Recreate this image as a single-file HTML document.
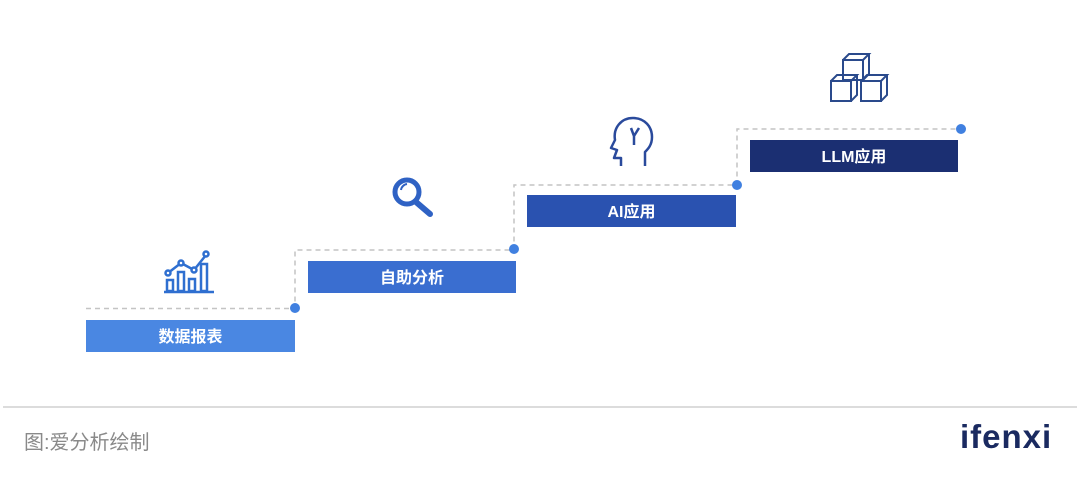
<!DOCTYPE html>
<html><head><meta charset="utf-8"><style>
body{margin:0;width:1080px;height:478px;background:#fff;position:relative;overflow:hidden;font-family:"Liberation Sans","Noto Sans CJK SC",sans-serif}
.b{position:absolute;height:32px;color:#fff;font-weight:bold;font-size:16px;line-height:35px;text-align:center}
</style></head><body>
<svg width="1080" height="478" style="position:absolute;left:0;top:0">
<g stroke="#c4c4c4" stroke-width="1.5" stroke-dasharray="5,4" fill="none">
<path d="M86 308.5H295V250H514V185H737V129H961"/>
</g>
<g fill="#4080e0">
<circle cx="295" cy="308" r="5"/><circle cx="514" cy="249" r="5"/><circle cx="737" cy="185" r="5"/><circle cx="961" cy="129" r="5"/>
</g>
<line x1="3" y1="407" x2="1077" y2="407" stroke="#dcdcdc" stroke-width="2"/>
<g stroke="#2f6fd0" stroke-width="2.5" fill="none">
<path d="M164 292H214"/>
<rect x="167" y="280" width="6" height="11"/><rect x="178" y="272" width="6" height="19"/><rect x="189" y="279" width="6" height="12"/><rect x="201" y="264" width="6" height="27"/>
<path d="M168 273L181 263L194 270L206 255"/>
<circle cx="168" cy="273" r="2.5" fill="#fff"/><circle cx="181" cy="263" r="2.5" fill="#fff"/><circle cx="194" cy="270" r="2.5" fill="#fff"/><circle cx="206" cy="254" r="2.5" fill="#fff"/>
</g>
<g stroke="#2f62c4" fill="none">
<circle cx="407" cy="192" r="12" stroke-width="5"/>
<path d="M416 202L430 214" stroke-width="6" stroke-linecap="round"/>
<path d="M401 190a7 7 0 0 1 6-6" stroke-width="2"/>
</g>
<g stroke="#2a4a9c" stroke-width="2.5" fill="none" stroke-linejoin="round">
<path d="M621 166V158H614L617 150L611 148L615 140C613 128 621 118 633 118C645 118 652 127 652 137C652 145 648 149 645 152V166"/>
<path d="M631 128L634 136L639 128M634 136V145"/>
</g>
<g stroke="#2a4a8c" stroke-width="2" fill="none">
<rect x="843" y="60" width="20" height="20"/><path d="M843 60l6-6h20l-6 6M869 54v20l-6 6"/>
<rect x="831" y="81" width="20" height="20"/><path d="M831 81l6-6h20l-6 6M857 75v20l-6 6"/>
<rect x="861" y="81" width="20" height="20"/><path d="M861 81l6-6h20l-6 6M887 75v20l-6 6"/>
</g>
</svg>
<div class="b" style="left:86px;top:320px;width:209px;background:#4a87e2">数据报表</div>
<div class="b" style="left:308px;top:261px;width:208px;background:#3a6ed0">自助分析</div>
<div class="b" style="left:527px;top:195px;width:209px;background:#2a52b0">AI应用</div>
<div class="b" style="left:750px;top:140px;width:208px;background:#1b2f72">LLM应用</div>
<div style="position:absolute;left:24px;top:426px;font-size:20px;color:#8a8a8a">图:爱分析绘制</div>
<div style="position:absolute;left:960px;top:418px;font-size:33px;font-weight:bold;color:#1a2a60;letter-spacing:1px">ifenxi</div>
</body></html>
